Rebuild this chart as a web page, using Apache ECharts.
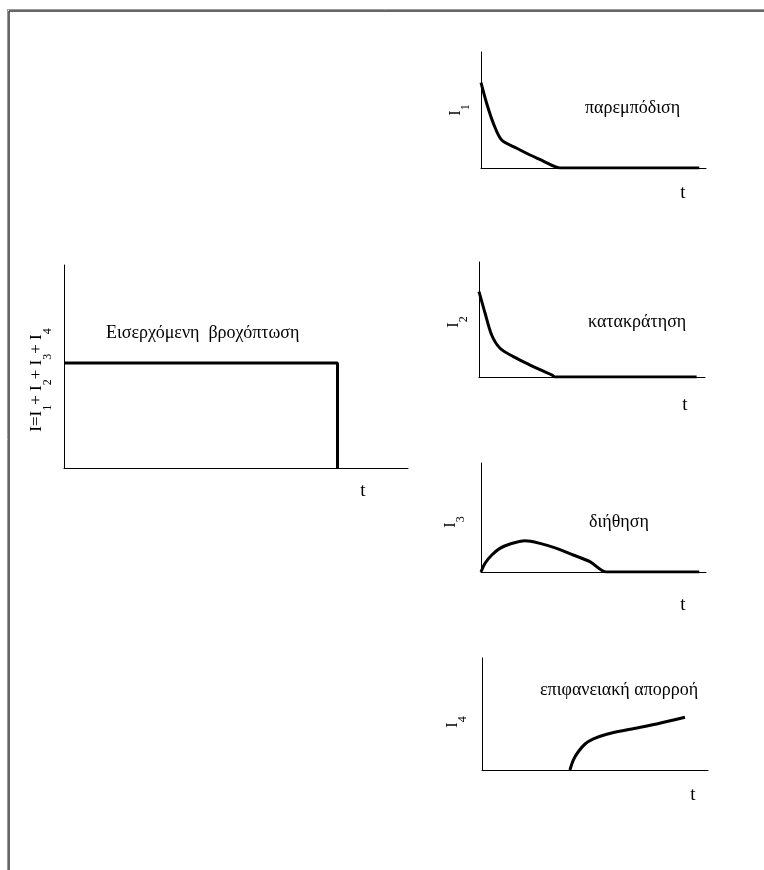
<!DOCTYPE html>
<html>
<head>
<meta charset="utf-8">
<title>Βροχόπτωση και απώλειες</title>
<script src="https://cdn.jsdelivr.net/npm/echarts@6/dist/echarts.min.js"></script>
<style>
  html, body { margin: 0; padding: 0; background: #fff; }
  #chart { width: 764px; height: 870px; }
</style>
</head>
<body>
<div id="chart"></div>
<script>
// incoming rainfall: constant intensity then stop (x 0..10, y 0..100)
var rainPoints = [[0, 51.7], [7.95, 51.7], [7.95, 0]];

// the four components (x 0..100, y 0..100 in each small panel)
var interceptionPoints = [[0, 73.5], [2.5, 55.8], [5.5, 38.5], [9.2, 24.1], [15.9, 17], [21.8, 11.2],
  [27.7, 6], [32.9, 1.1], [35, 0], [97, 0]];
var retentionPoints = [[0, 74.2], [2.7, 55.4], [5.6, 36.5], [9.3, 25], [15.2, 17.7], [22.6, 10.4],
  [28, 5.5], [32.4, 1.7], [33.6, 0], [96.3, 0]];
var infiltrationPoints = [[0, 0], [1.8, 8], [4.8, 15.6], [8.4, 21.7], [12.9, 25.7], [19.6, 28.7],
  [26.2, 26.3], [33.6, 21.7], [41, 15.6], [48.4, 9.5], [55.9, 0], [97, 0]];
var runoffPoints = [[38.9, 0], [40.4, 8.9], [42.6, 16.3], [45.6, 23.2], [49.3, 27.7], [55.2, 31.9],
  [65.5, 36.3], [77.3, 41.1], [89.8, 47.1]];

var panelNames = ['παρεμπόδιση', 'κατακράτηση', 'διήθηση', 'επιφανειακή απορροή'];
var panelSymbols = ['1', '2', '3', '4'];
var rainName = 'Εισερχόμενη  βροχόπτωση';
var timeName = 't';

var FONT = '"Liberation Serif", "DejaVu Serif", serif';

var chart = echarts.init(document.getElementById('chart'), null, { renderer: 'canvas' });

// grids: [left, top, width, height] in px
var grids = [
  [64, 265, 344, 203],
  [481, 52, 225, 116],
  [479, 262, 226, 115],
  [481, 463, 225, 109],
  [482, 658, 226, 112]
];

function axisPair(i, xMax) {
  var line = { show: true, onZero: false, lineStyle: { color: '#000', width: 1 } };
  return {
    x: {
      type: 'value', gridIndex: i, min: 0, max: xMax,
      axisLine: line, axisTick: { show: false }, axisLabel: { show: false }, splitLine: { show: false }
    },
    y: {
      type: 'value', gridIndex: i, min: 0, max: 100,
      axisLine: line, axisTick: { show: false }, axisLabel: { show: false }, splitLine: { show: false }
    }
  };
}

var xAxes = [], yAxes = [];
for (var i = 0; i < grids.length; ++i) {
  var p = axisPair(i, i === 0 ? 10 : 100);
  xAxes.push(p.x);
  yAxes.push(p.y);
}

function curve(i, data, smooth) {
  return {
    type: 'line', xAxisIndex: i, yAxisIndex: i, data: data,
    smooth: smooth ? 0.3 : false,
    showSymbol: false, silent: true,
    lineStyle: { color: '#000', width: 3 }
  };
}

// rotated axis names with subscripts
function subLabel(parts) {
  var s = '';
  for (var k = 0; k < parts.length; ++k) {
    s += parts[k][1] ? '{s|' + parts[k][0] + '}' : '{b|' + parts[k][0] + '}';
  }
  return s;
}
function richSub(size) {
  return {
    b: { font: size + 'px ' + FONT, fill: '#000', lineHeight: size, verticalAlign: 'top' },
    s: { font: Math.round(size * 0.72) + 'px ' + FONT, fill: '#000', lineHeight: size + 8, verticalAlign: 'bottom' }
  };
}

function rotText(x, y, parts, size) {
  return {
    type: 'text', x: x, y: y, rotation: Math.PI / 2, silent: true,
    style: { text: subLabel(parts), rich: richSub(size), align: 'center', verticalAlign: 'middle' }
  };
}
function plainText(x, y, txt, align, size) {
  return {
    type: 'text', x: x, y: y, silent: true,
    style: { text: txt, font: size + 'px ' + FONT, fill: '#000', align: align, verticalAlign: 'middle' }
  };
}

var totalLabel = [['I=I', 0], ['1', 1], ['+ I', 0], ['2', 1], ['+ I', 0], ['3', 1], ['+ I', 0], ['4', 1]];

var graphics = [
  // window frame
  { type: 'line', silent: true, shape: { x1: 7, y1: 9.5, x2: 764, y2: 9.5 }, style: { stroke: '#9a9a9a', lineWidth: 1 } },
  { type: 'line', silent: true, shape: { x1: 7.5, y1: 9, x2: 7.5, y2: 870 }, style: { stroke: '#9a9a9a', lineWidth: 1 } },
  { type: 'line', silent: true, shape: { x1: 9, y1: 11, x2: 764, y2: 11 }, style: { stroke: '#333', lineWidth: 1.5 } },
  { type: 'line', silent: true, shape: { x1: 9, y1: 11, x2: 9, y2: 870 }, style: { stroke: '#333', lineWidth: 1.5 } },

  plainText(106, 333, rainName, 'left', 18),
  plainText(363, 491, timeName, 'center', 19),
  rotText(41, 380, totalLabel, 17),

  plainText(585, 108, panelNames[0], 'left', 18),
  plainText(588, 322, panelNames[1], 'left', 18),
  plainText(589, 522, panelNames[2], 'left', 18),
  plainText(540, 690, panelNames[3], 'left', 18),

  rotText(460, 110, [['I', 0], [panelSymbols[0], 1]], 16),
  rotText(458, 322, [['I', 0], [panelSymbols[1], 1]], 16),
  rotText(455, 522, [['I', 0], [panelSymbols[2], 1]], 16),
  rotText(457, 722, [['I', 0], [panelSymbols[3], 1]], 16),

  plainText(683, 193, timeName, 'center', 19),
  plainText(685, 405, timeName, 'center', 19),
  plainText(683, 605, timeName, 'center', 19),
  plainText(693, 795, timeName, 'center', 19)
];

chart.setOption({
  backgroundColor: '#fff',
  animation: false,
  grid: grids.map(function (g) {
    return { left: g[0], top: g[1], width: g[2], height: g[3], containLabel: false };
  }),
  xAxis: xAxes,
  yAxis: yAxes,
  series: [
    curve(0, rainPoints, false),
    curve(1, interceptionPoints, true),
    curve(2, retentionPoints, true),
    curve(3, infiltrationPoints, true),
    curve(4, runoffPoints, true)
  ],
  graphic: graphics
});
</script>
</body>
</html>
